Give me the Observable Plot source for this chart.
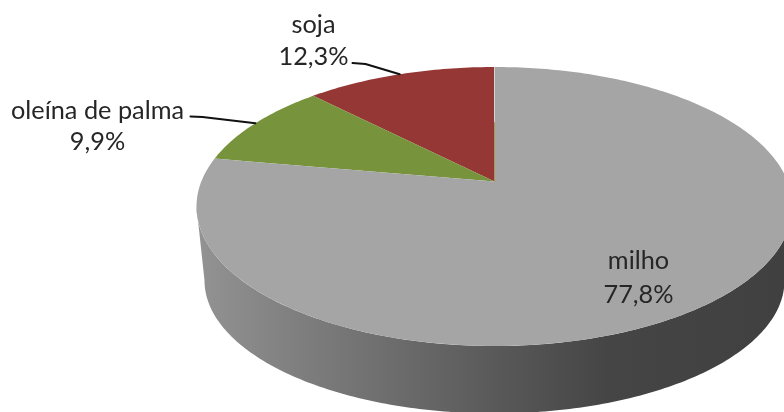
<!DOCTYPE html>
<html>
<head>
<meta charset="utf-8">
<script src="https://cdn.jsdelivr.net/npm/d3@7"></script>
<script src="https://cdn.jsdelivr.net/npm/@observablehq/plot@0.6"></script>
<style>html,body{margin:0;padding:0;background:#fff}svg{display:block;filter:blur(0.45px)}</style>
</head>
<body>
<div id="chart"></div>
<script>
// Data (clockwise from milho, as the chart draws it)
const categories = ["milho", "oleína de palma", "soja"];
const shares = [77.8, 9.9, 12.3];
const shareLabels = ["77,8%", "9,9%", "12,3%"];
const sliceColors = ["#a5a5a5", "#77933c", "#953735"];

// Layout, in pixels of the picture
const W = 784, H = 412;
const cx = 494, cy = 206, rx = 298, ry = 139.5;
const tilt = -0.179;                              // perspective of the disc
const floor = {cy: 280, rx: 290, ry: 133};        // lower rim
const wallStops = [[0, "#939393"], [0.17, "#7f7f7f"], [0.5, "#5a5a5a"], [0.7, "#454545"], [1, "#404040"]];
const labelPx = {
  "milho": [638, 260, 294],
  "oleína de palma": [97, 110, 141],
  "soja": [313, 24, 56]
};
const leaderPx = {
  "oleína de palma": [[190, 116], [202, 116.5]],
  "soja": [[352, 62.5], [365, 63.5]]
};

// Pixel <-> disc-radius units
const ux = (px) => (px - cx) / rx, uy = (py) => (py - cy) / ry;

// position on the disc for a fractional share f (counter-clockwise from 12 o'clock)
function rim(f) {
  const a = f * 2 * Math.PI, u = -Math.sin(a), v = -Math.cos(a);
  const d = 1 + tilt * v;
  return {x: u * Math.sqrt(1 - tilt * tilt) / d, y: (v + tilt) / d};
}
const apex = {x: 0, y: tilt};

// Slices, starting at the top and running counter-clockwise: soja, oleína, milho
const total = d3.sum(shares);
const order = [2, 1, 0];
let acc = 0;
const slicePts = [], mids = {};
for (const i of order) {
  const f0 = acc / total, f1 = (acc + shares[i]) / total;
  acc += shares[i];
  slicePts.push({...apex, name: categories[i]});
  const n = Math.ceil((f1 - f0) * 360);
  for (let k = 0; k <= n; k++) slicePts.push({...rim(f0 + (f1 - f0) * k / n), name: categories[i]});
  mids[categories[i]] = rim((f0 + f1) / 2);
}

// Wall: lower half of the top rim and lower rim back
const wall = [];
for (let t = 180; t >= 0; t -= 1) {
  const a = t * Math.PI / 180;
  wall.push({x: Math.cos(a), y: Math.sin(a)});
}
for (let t = 0; t <= 180; t += 1) {
  const a = t * Math.PI / 180;
  wall.push({x: ux(cx + floor.rx * Math.cos(a)), y: uy(floor.cy + floor.ry * Math.sin(a))});
}

// Leaders run from the label to the middle of the slice's rim
const leaders = [];
for (const name of Object.keys(leaderPx)) {
  for (const [px, py] of leaderPx[name]) leaders.push({x: ux(px), y: uy(py), name});
  leaders.push({...mids[name], name});
}

// Labels
const labels = categories.flatMap((name, i) => {
  const [px, y1, y2] = labelPx[name];
  return [{x: ux(px), y: uy(y1), t: name}, {x: ux(px), y: uy(y2), t: shareLabels[i]}];
});

// Thin seam where the circle closes at 12 o'clock
const seamTop = [rim(0), {x: 0, y: uy(122)}];
const seamLow = [{x: 0, y: uy(122)}, apex];

const defs = () => {
  const d = d3.create("svg:defs");
  const g = d.append("linearGradient").attr("id", "wall")
    .attr("gradientUnits", "userSpaceOnUse")
    .attr("x1", 196).attr("x2", 784).attr("y1", 0).attr("y2", 0);
  for (const [o, c] of wallStops) g.append("stop").attr("offset", o).attr("stop-color", c);
  return d.node();
};

const chart = Plot.plot({
  width: W, height: H,
  marginTop: 0, marginRight: 0, marginBottom: 0, marginLeft: 0,
  x: {domain: [ux(0), ux(W)], range: [0, W], axis: null},
  y: {domain: [uy(0), uy(H)], range: [0, H], axis: null},
  color: {domain: categories, range: sliceColors, legend: false},
  style: {background: "#fff"},
  marks: [
    defs,
    Plot.line(wall, {x: "x", y: "y", fill: "url(#wall)", stroke: "none"}),
    Plot.line(slicePts, {x: "x", y: "y", z: "name", fill: "name", stroke: "none"}),
    Plot.line(seamTop, {x: "x", y: "y", stroke: "#d2d2d2", strokeWidth: 1}),
    Plot.line(seamLow, {x: "x", y: "y", stroke: "#a8985a", strokeWidth: 1}),
    Plot.line(leaders, {x: "x", y: "y", z: "name", stroke: "#111", strokeWidth: 2}),
    Plot.text(labels, {x: "x", y: "y", text: "t", fill: "#262626",
      fontFamily: "Lato", fontSize: 25.3, textAnchor: "middle", lineAnchor: "middle"})
  ]
});
document.getElementById("chart").append(chart);
</script>
</body>
</html>
